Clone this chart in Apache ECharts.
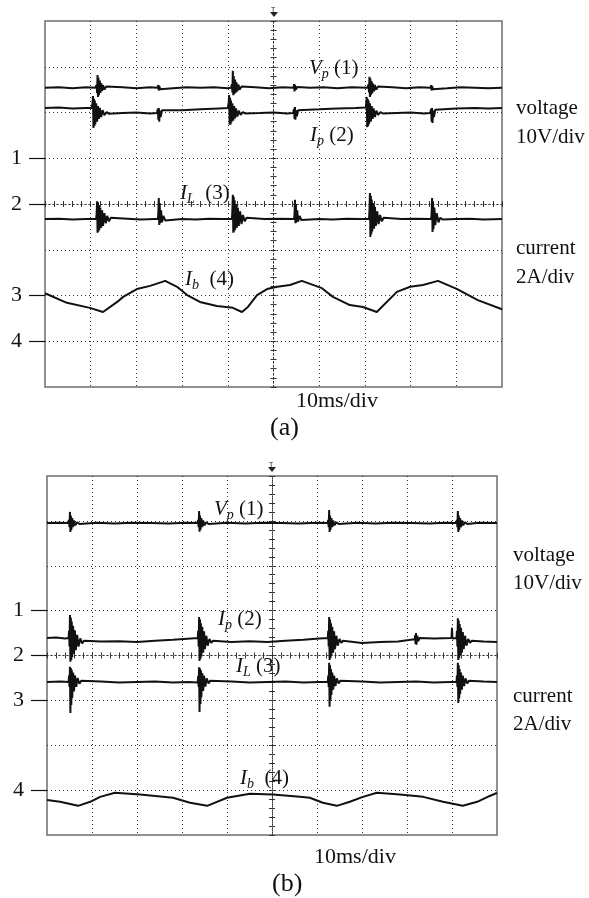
<!DOCTYPE html>
<html>
<head>
<meta charset="utf-8">
<script src="https://cdn.jsdelivr.net/npm/echarts@6/dist/echarts.min.js"></script>
<style>
  html, body { margin: 0; background: #fff; }
  #chart { width: 589px; height: 898px; }
</style>
</head>
<body>
<div id="chart"></div>
<script>
// time in ms (-50..50, 10ms/div), amplitude in screen divisions (-4..4)
const CHANNEL_NAMES = ["1", "2", "3", "4"];
const CHANNEL_LEVELS_A = [1, 0, -2, -3];
const CHANNEL_LEVELS_B = [1, 0, -1, -3];

// ---- panel (a) ----
const VP_A = [
  [-50,2.54],[-47,2.55],[-44,2.53],[-41,2.55],[-39.0,2.54],
  [-38.7,2.60],[-38.6,2.42],[-38.5,2.82],[-38.4,2.34],[-38.3,2.76],[-38.2,2.38],[-38.0,2.70],[-37.9,2.43],[-37.7,2.64],[-37.5,2.47],[-37.3,2.60],[-37.0,2.50],[-36.6,2.57],[-36.2,2.53],
  [-33,2.55],[-30,2.53],[-27,2.55],[-25.4,2.54],
  [-25.2,2.60],[-25.1,2.48],[-25.0,2.58],[-24.8,2.51],[-24.5,2.55],
  [-22,2.53],[-19,2.55],[-16,2.54],[-13,2.55],[-10,2.53],[-9.3,2.54],
  [-9.1,2.62],[-9.0,2.44],[-8.9,2.91],[-8.8,2.38],[-8.7,2.80],[-8.6,2.40],[-8.4,2.72],[-8.3,2.43],[-8.1,2.66],[-7.9,2.46],[-7.7,2.61],[-7.4,2.50],[-7.0,2.57],[-6.6,2.53],
  [-4,2.55],[-1,2.53],[2,2.55],[4.4,2.54],
  [4.5,2.62],[4.6,2.46],[4.7,2.60],[4.9,2.50],[5.2,2.56],
  [8,2.54],[11,2.55],[14,2.53],[17,2.55],[20.6,2.54],
  [20.8,2.62],[20.9,2.44],[21.0,2.78],[21.1,2.34],[21.2,2.74],[21.3,2.38],[21.5,2.68],[21.6,2.42],[21.8,2.63],[22.0,2.46],[22.2,2.60],[22.5,2.50],[22.9,2.57],[23.3,2.53],
  [26,2.55],[29,2.53],[32,2.55],[34.4,2.54],
  [34.5,2.60],[34.6,2.48],[34.7,2.58],[34.9,2.51],[35.2,2.55],
  [38,2.53],[41,2.55],[44,2.54],[47,2.53],[50,2.54]
];
const IP_A = [
  [-50,2.10],[-47,2.11],[-44,2.09],[-41,2.10],[-39.8,2.10],
  [-39.6,2.20],[-39.5,2.36],[-39.4,1.66],[-39.3,2.30],[-39.2,1.70],[-39.1,2.26],[-39.0,1.74],[-38.8,2.20],[-38.6,1.80],[-38.4,2.14],[-38.2,1.86],[-38.0,2.10],[-37.7,1.90],[-37.4,2.05],[-37.0,1.94],[-36.5,2.01],[-36.0,1.97],
  [-33,1.99],[-30,2.00],[-27,1.98],[-25.5,1.99],
  [-25.3,2.08],[-25.2,1.84],[-25.1,2.10],[-25.0,1.80],[-24.9,2.04],[-24.7,1.90],[-24.4,2.05],[-24.0,2.02],
  [-20,2.05],[-16,2.07],[-12,2.09],[-10.0,2.10],
  [-9.8,2.22],[-9.7,2.38],[-9.6,1.73],[-9.5,2.32],[-9.4,1.74],[-9.3,2.26],[-9.2,1.78],[-9.0,2.20],[-8.8,1.82],[-8.6,2.14],[-8.4,1.87],[-8.2,2.09],[-7.9,1.91],[-7.6,2.04],[-7.2,1.95],[-6.7,2.01],[-6.2,1.98],
  [-3,1.99],[0,2.00],[3,1.98],[4.3,1.99],
  [4.5,2.08],[4.6,1.86],[4.7,2.12],[4.8,1.84],[4.9,2.05],[5.1,1.92],[5.4,2.05],[5.8,2.04],
  [10,2.07],[14,2.09],[18,2.10],[20.2,2.11],
  [20.3,2.22],[20.4,2.34],[20.5,1.68],[20.6,2.30],[20.7,1.70],[20.8,2.26],[20.9,1.75],[21.1,2.20],[21.3,1.80],[21.5,2.14],[21.7,1.86],[21.9,2.09],[22.2,1.90],[22.5,2.04],[22.9,1.95],[23.4,2.01],[23.9,1.98],
  [27,1.99],[30,2.00],[33,1.98],[34.3,1.99],
  [34.5,2.08],[34.6,1.80],[34.7,2.10],[34.8,1.77],[34.9,2.04],[35.1,1.90],[35.4,2.06],[35.8,2.08],
  [40,2.09],[44,2.10],[47,2.09],[50,2.10]
];
const IL_A = [
  [-50,-0.33],[-47,-0.32],[-44,-0.34],[-41,-0.33],[-38.8,-0.33],
  [-38.7,-0.20],[-38.6,0.06],[-38.5,-0.63],[-38.4,0.04],[-38.3,-0.60],[-38.2,-0.02],[-38.1,-0.56],[-37.9,-0.08],[-37.7,-0.52],[-37.5,-0.14],[-37.3,-0.48],[-37.0,-0.20],[-36.7,-0.42],[-36.4,-0.26],[-36.0,-0.38],[-35.6,-0.30],[-35.2,-0.34],
  [-32,-0.32],[-29,-0.34],[-26,-0.33],[-25.3,-0.33],
  [-25.2,-0.20],[-25.1,0.13],[-25.0,-0.46],[-24.9,0.02],[-24.8,-0.42],[-24.6,-0.14],[-24.4,-0.40],[-24.1,-0.26],[-23.7,-0.36],[-23.3,-0.32],
  [-20,-0.33],[-17,-0.34],[-14,-0.32],[-11,-0.33],[-9.1,-0.33],
  [-9.0,-0.15],[-8.9,0.20],[-8.8,-0.63],[-8.7,0.16],[-8.6,-0.60],[-8.5,0.08],[-8.4,-0.56],[-8.2,0.00],[-8.0,-0.52],[-7.8,-0.08],[-7.6,-0.48],[-7.3,-0.16],[-7.0,-0.44],[-6.7,-0.24],[-6.3,-0.38],[-5.9,-0.30],[-5.5,-0.34],
  [-2,-0.33],[1,-0.32],[4.5,-0.33],
  [4.6,-0.22],[4.7,0.09],[4.8,-0.42],[4.9,0.00],[5.0,-0.40],[5.2,-0.14],[5.4,-0.38],[5.7,-0.26],[6.1,-0.35],[6.5,-0.32],
  [10,-0.33],[13,-0.34],[16,-0.32],[19,-0.33],[20.9,-0.33],
  [21.0,-0.15],[21.1,0.24],[21.2,-0.72],[21.3,0.18],[21.4,-0.66],[21.5,0.10],[21.6,-0.60],[21.8,0.02],[22.0,-0.54],[22.2,-0.06],[22.4,-0.48],[22.7,-0.16],[23.0,-0.44],[23.3,-0.24],[23.7,-0.38],[24.1,-0.30],[24.5,-0.34],
  [28,-0.33],[31,-0.32],[34.5,-0.33],
  [34.6,-0.20],[34.7,0.13],[34.8,-0.61],[34.9,0.06],[35.0,-0.55],[35.2,-0.08],[35.4,-0.46],[35.7,-0.20],[36.1,-0.40],[36.5,-0.30],[37.0,-0.34],
  [40,-0.33],[43,-0.32],[46,-0.34],[50,-0.33]
];
const IB_A = [
  [-50,-1.95],[-45.2,-2.16],[-40.2,-2.27],[-37.3,-2.36],[-34.2,-2.14],[-32.9,-2.03],[-29.9,-1.86],[-27.0,-1.79],
  [-23.7,-1.68],[-21.1,-1.81],[-18.9,-1.99],[-16.1,-2.14],[-12.4,-2.23],[-8.9,-2.27],[-6.9,-2.36],[-5.6,-2.25],
  [-3.6,-1.99],[-1.4,-1.86],[0.8,-1.81],[3.6,-1.77],[6.2,-1.68],[10.6,-1.84],[13.0,-2.03],[16.7,-2.21],
  [19.6,-2.25],[22.6,-2.36],[27.0,-1.92],[29.9,-1.81],[32.7,-1.77],[36.0,-1.68],[40.2,-1.86],[44.7,-2.10],[50,-2.30]
];

// ---- panel (b) ----
const VP_B = [
  [-50,2.95],[-47.5,2.96],[-45.3,2.95],
  [-45.1,3.02],[-45.0,2.86],[-44.9,3.20],[-44.8,2.75],[-44.7,3.12],[-44.6,2.80],[-44.4,3.06],[-44.2,2.86],[-44.0,3.01],[-43.7,2.90],[-43.3,2.97],[-42.8,2.93],
  [-39,2.96],[-35,2.94],[-31,2.96],[-27,2.95],[-23,2.94],[-19,2.96],[-16.6,2.95],
  [-16.4,3.02],[-16.3,2.86],[-16.2,3.22],[-16.1,2.76],[-16.0,3.12],[-15.9,2.80],[-15.7,3.06],[-15.5,2.86],[-15.3,3.01],[-15.0,2.90],[-14.6,2.97],[-14.1,2.93],
  [-10,2.96],[-6,2.94],[-2,2.96],[2,2.95],[6,2.94],[10,2.96],[12.3,2.95],
  [12.5,3.02],[12.6,2.86],[12.7,3.24],[12.8,2.75],[12.9,3.12],[13.0,2.80],[13.2,3.06],[13.4,2.86],[13.6,3.01],[13.9,2.90],[14.3,2.97],[14.8,2.93],
  [19,2.96],[23,2.94],[27,2.96],[31,2.95],[35,2.94],[38.5,2.96],[40.9,2.95],
  [41.1,3.02],[41.2,2.86],[41.3,3.22],[41.4,2.75],[41.5,3.12],[41.6,2.80],[41.8,3.06],[42.0,2.86],[42.2,3.01],[42.5,2.90],[42.9,2.97],[43.4,2.93],
  [46,2.96],[50,2.95]
];
const IP_B = [
  [-50,0.39],[-48,0.40],[-46,0.38],[-45.2,0.39],
  [-45.1,0.55],[-45.0,0.20],[-44.9,0.90],[-44.8,-0.14],[-44.7,0.84],[-44.6,-0.10],[-44.5,0.76],[-44.4,-0.04],[-44.2,0.66],[-44.0,0.04],[-43.8,0.56],[-43.6,0.12],[-43.3,0.46],[-43.0,0.20],[-42.6,0.38],[-42.2,0.27],[-41.8,0.33],
  [-38,0.31],[-34,0.32],[-30,0.30],[-26,0.33],[-22,0.35],[-18,0.38],[-16.5,0.39],
  [-16.4,0.55],[-16.3,0.20],[-16.2,0.86],[-16.1,-0.12],[-16.0,0.80],[-15.9,-0.08],[-15.8,0.72],[-15.7,-0.02],[-15.5,0.64],[-15.3,0.06],[-15.1,0.54],[-14.9,0.14],[-14.6,0.44],[-14.3,0.22],[-13.9,0.37],[-13.5,0.28],[-13.1,0.33],
  [-9,0.30],[-5,0.32],[-1,0.30],[3,0.33],[7,0.35],[10.5,0.38],[12.4,0.39],
  [12.5,0.55],[12.6,0.20],[12.7,0.86],[12.8,-0.10],[12.9,0.80],[13.0,-0.06],[13.1,0.72],[13.2,0.00],[13.4,0.64],[13.6,0.06],[13.8,0.54],[14.0,0.14],[14.3,0.44],[14.6,0.22],[15.0,0.37],[15.4,0.28],[15.8,0.33],
  [20,0.28],[24,0.30],[28,0.31],[31.7,0.36],
  [31.8,0.45],[31.9,0.26],[32.0,0.50],[32.1,0.24],[32.3,0.44],[32.5,0.32],[32.8,0.39],
  [36,0.38],[39.9,0.39],[40.0,0.62],[40.1,0.38],[41.0,0.39],
  [41.1,0.55],[41.2,0.20],[41.3,0.83],[41.4,-0.10],[41.5,0.78],[41.6,-0.06],[41.7,0.70],[41.8,0.00],[42.0,0.62],[42.2,0.06],[42.4,0.52],[42.6,0.14],[42.9,0.44],[43.2,0.22],[43.6,0.37],[44.0,0.28],[44.4,0.33],
  [47,0.31],[50,0.30]
];
const IL_B = [
  [-50,-0.59],[-47,-0.58],[-45.2,-0.59],
  [-45.1,-0.45],[-45.0,-0.70],[-44.9,-0.25],[-44.8,-1.28],[-44.7,-0.28],[-44.6,-1.10],[-44.5,-0.32],[-44.4,-0.95],[-44.2,-0.38],[-44.0,-0.80],[-43.8,-0.44],[-43.5,-0.70],[-43.2,-0.50],[-42.8,-0.63],[-42.4,-0.56],[-42.0,-0.60],
  [-38,-0.58],[-34,-0.60],[-30,-0.59],[-26,-0.58],[-22,-0.60],[-18.5,-0.59],[-16.5,-0.60],
  [-16.4,-0.45],[-16.3,-0.70],[-16.2,-0.26],[-16.1,-1.26],[-16.0,-0.29],[-15.9,-1.08],[-15.8,-0.33],[-15.7,-0.93],[-15.5,-0.39],[-15.3,-0.79],[-15.1,-0.45],[-14.8,-0.69],[-14.5,-0.51],[-14.1,-0.62],[-13.7,-0.56],[-13.3,-0.60],
  [-9,-0.58],[-5,-0.60],[-1,-0.59],[3,-0.58],[7,-0.60],[10.5,-0.59],[12.4,-0.59],
  [12.5,-0.45],[12.6,-0.70],[12.7,-0.16],[12.8,-1.14],[12.9,-0.22],[13.0,-1.00],[13.1,-0.30],[13.2,-0.88],[13.4,-0.38],[13.6,-0.76],[13.8,-0.45],[14.1,-0.68],[14.4,-0.51],[14.8,-0.62],[15.2,-0.56],[15.6,-0.60],
  [20,-0.58],[24,-0.60],[28,-0.59],[32,-0.58],[36,-0.60],[39.5,-0.59],[41.0,-0.59],
  [41.1,-0.45],[41.2,-0.70],[41.3,-0.16],[41.4,-1.06],[41.5,-0.22],[41.6,-0.96],[41.7,-0.30],[41.8,-0.86],[42.0,-0.38],[42.2,-0.76],[42.4,-0.45],[42.7,-0.68],[43.0,-0.51],[43.4,-0.62],[43.8,-0.56],[44.2,-0.60],
  [47,-0.58],[50,-0.59]
];
const IB_B = [
  [-50,-3.22],[-47.1,-3.26],[-43.1,-3.35],[-40.4,-3.26],[-38.2,-3.15],[-34.9,-3.06],[-29.3,-3.10],[-22.0,-3.17],
  [-18.2,-3.28],[-14.4,-3.35],[-10.0,-3.17],[-4.9,-3.08],[0.2,-3.10],[6.2,-3.15],[8.4,-3.17],[11.3,-3.28],
  [14.4,-3.35],[17.3,-3.26],[20.2,-3.15],[23.3,-3.06],[28.4,-3.10],[33.6,-3.15],[38.0,-3.26],[42.4,-3.35],
  [45.6,-3.26],[48.4,-3.13],[50,-3.06]
];

const SERIF = "'Liberation Serif', 'DejaVu Serif', serif";
const INK = "#111";
const DOT = { type: [1, 3], color: "#333", width: 1 };

const grids = [
  { left: 45, top: 21, width: 457, height: 366 },
  { left: 47, top: 476, width: 450, height: 359 },
];

const xAxes = [], yAxes = [], series = [];

function addPanel(gi, levels, traces) {
  const xMain = xAxes.length, yMain = yAxes.length;
  xAxes.push({
    gridIndex: gi, type: "value", min: -50, max: 50, interval: 10,
    axisLine: { show: false, onZero: false }, axisTick: { show: false }, axisLabel: { show: false },
    splitLine: { show: true, showMinLine: false, showMaxLine: false, lineStyle: DOT },
  });
  yAxes.push({
    gridIndex: gi, type: "value", min: -4, max: 4, interval: 1, position: "left",
    axisLine: { show: false, onZero: false }, axisTick: { show: false }, axisLabel: { show: false },
    splitLine: { show: true, showMinLine: false, showMaxLine: false, lineStyle: DOT },
  });
  // graticule centre lines with 0.2 div ticks on both sides
  for (const inside of [false, true]) {
    xAxes.push({
      gridIndex: gi, type: "value", min: -50, max: 50, interval: 10, position: "bottom",
      axisLine: { show: true, onZero: true, onZeroAxisIndex: yMain, lineStyle: DOT },
      axisTick: { show: true, inside, length: 3, lineStyle: { color: "#333" } },
      minorTick: { show: true, splitNumber: 5, length: 3, lineStyle: { color: "#333" } },
      axisLabel: { show: false }, splitLine: { show: false },
    });
    yAxes.push({
      gridIndex: gi, type: "value", min: -4, max: 4, interval: 1, position: "left",
      axisLine: { show: true, onZero: true, onZeroAxisIndex: xMain, lineStyle: DOT },
      axisTick: { show: true, inside, length: 3, lineStyle: { color: "#333" } },
      minorTick: { show: true, splitNumber: 5, length: 3, lineStyle: { color: "#333" } },
      axisLabel: { show: false }, splitLine: { show: false },
    });
  }
  // channel ground markers on the left
  yAxes.push({
    gridIndex: gi, type: "value", min: -4, max: 4, position: "left",
    axisLine: { show: false, onZero: false },
    axisTick: { show: true, customValues: levels, length: 16, lineStyle: { color: INK, width: 1.2 } },
    axisLabel: {
      show: true, customValues: levels, margin: 23,
      formatter: v => CHANNEL_NAMES[levels.indexOf(v)],
      fontFamily: SERIF, fontSize: 22, color: INK,
    },
    splitLine: { show: false },
  });
  for (const data of traces) {
    series.push({
      type: "line", xAxisIndex: xMain, yAxisIndex: yMain, data,
      showSymbol: false, silent: true,
      lineStyle: { color: INK, width: 2 },
    });
  }
}

addPanel(0, CHANNEL_LEVELS_A, [VP_A, IP_A, IL_A, IB_A]);
addPanel(1, CHANNEL_LEVELS_B, [VP_B, IP_B, IL_B, IB_B]);

const rich = {
  i: { fontFamily: SERIF, fontSize: 21, fontStyle: "italic", fill: INK },
  s: { fontFamily: SERIF, fontSize: 14, fontStyle: "italic", fill: INK, padding: [12, 0, 0, 0] },
  n: { fontFamily: SERIF, fontSize: 21, fill: INK },
};

function label(x, y, text) {
  return { type: "text", x, y, silent: true,
    style: { text, rich, verticalAlign: "middle", align: "left", fill: INK, font: "21px " + SERIF } };
}
function plain(x, y, text, size, align) {
  return { type: "text", x, y, silent: true,
    style: { text, verticalAlign: "middle", align: align || "left", fill: INK,
      font: size + "px " + SERIF } };
}
function trigger(x, y) {
  return { type: "group", silent: true, children: [
    { type: "text", x: x - 3, y: y, style: { text: "T", font: "7px sans-serif", fill: "#222" } },
    { type: "polygon", shape: { points: [[x - 4, y + 5], [x + 4, y + 5], [x, y + 10]] }, style: { fill: "#222" } },
  ] };
}

const graphic = [
  trigger(274, 7),
  label(309, 68, "{i|V}{s|p}{n| (1)}"),
  label(310, 135, "{i|I}{s|p}{n| (2)}"),
  label(180, 193, "{i|I}{s|L}{n|  (3)}"),
  label(185, 279, "{i|I}{s|b}{n|  (4)}"),
  plain(516, 108, "voltage", 21), plain(516, 137, "10V/div", 21),
  plain(516, 248, "current", 21), plain(516, 277, "2A/div", 21),
  plain(296, 401, "10ms/div", 22), plain(270, 428, "(a)", 26),

  trigger(272, 462),
  label(214, 509, "{i|V}{s|p}{n| (1)}"),
  label(218, 619, "{i|I}{s|p}{n| (2)}"),
  label(236, 666, "{i|I}{s|L}{n| (3)}"),
  label(240, 778, "{i|I}{s|b}{n|  (4)}"),
  plain(513, 555, "voltage", 21), plain(513, 583, "10V/div", 21),
  plain(513, 696, "current", 21), plain(513, 724, "2A/div", 21),
  plain(314, 857, "10ms/div", 22), plain(272, 884, "(b)", 26),
];

const chart = echarts.init(document.getElementById("chart"), null, { renderer: "canvas" });
chart.setOption({
  animation: false,
  backgroundColor: "#fff",
  grid: grids.map(g => ({ ...g, show: true, borderColor: "#6e6e6e", borderWidth: 1.5, backgroundColor: "transparent" })),
  xAxis: xAxes,
  yAxis: yAxes,
  series,
  graphic,
});
</script>
</body>
</html>
